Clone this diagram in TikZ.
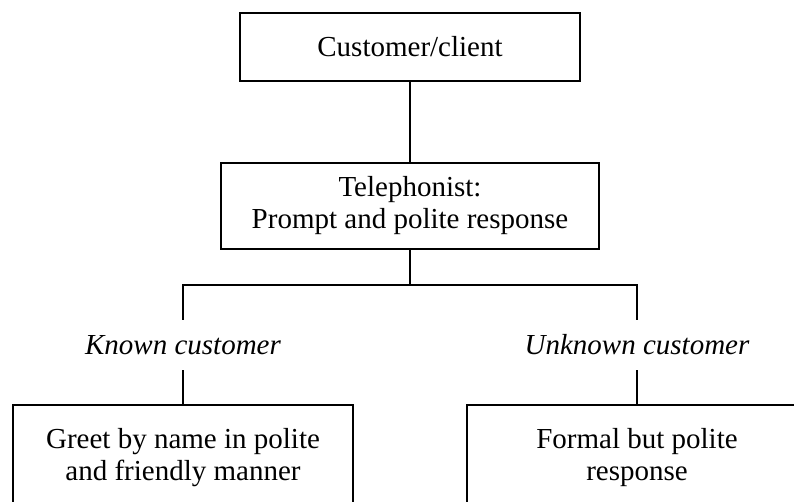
\documentclass[tikz,border=0pt]{standalone}
\usepackage{fontspec}
\setmainfont{Liberation Serif}
\begin{document}
\begin{tikzpicture}[x=1pt,y=-1pt,
  every node/.style={font=\fontsize{29}{32}\selectfont},
  box/.style={draw, line width=2pt, align=center, inner sep=0pt},
  branch/.style={align=center, inner sep=0pt, minimum height=50pt, font=\fontsize{29}{32}\selectfont\itshape},
  link/.style={line width=2pt}]
\useasboundingbox (0,0) rectangle (794,502);
\clip (0,0) rectangle (794,502);

% boxes
\node[box, minimum width=340pt, minimum height=68pt] (cust) at (410,47) {Customer/client};
\node[box, minimum width=378pt, minimum height=86pt] (tel) at (410,206) {Telephonist:\\Prompt and polite response};
\node[box, minimum width=340pt, minimum height=106pt] (greet) at (183,458) {Greet by name in polite\\and friendly manner};
\node[box, minimum width=340pt, minimum height=106pt] (formal) at (637,458) {Formal but polite\\response};

% branch labels
\node[branch] (known) at (183,345) {Known customer};
\node[branch] (unknown) at (637,345) {Unknown customer};
\coordinate (hub) at (410,285);

% connectors
\draw[link] (cust.south) -- (tel.north);
\draw[link] (tel.south) -- (hub);
\draw[link] (known.north) |- (hub) -| (unknown.north);
\draw[link] (known.south) -- (greet.north);
\draw[link] (unknown.south) -- (formal.north);
\end{tikzpicture}
\end{document}
